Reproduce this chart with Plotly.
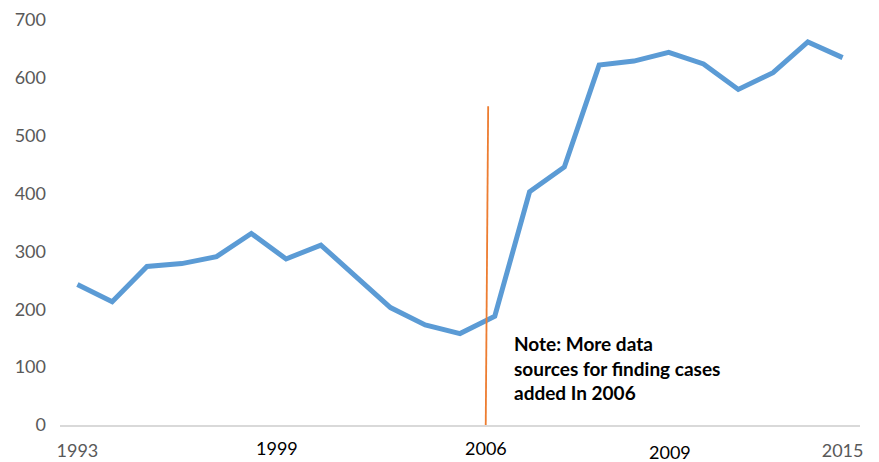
import plotly.graph_objects as go

years = list(range(1993, 2016))
cases = [243, 213, 274, 279, 291, 331, 287, 311, 257, 203, 173, 158, 188,
         403, 446, 622, 629, 644, 624, 580, 609, 662, 635]

y_ticks = [0, 100, 200, 300, 400, 500, 600, 700]
edge_ticks = [1993, 2015]
extra_labels = ["1999", "2006", "2009"]
extra_label_x = [1998.75, 2004.75, 2010.04]
extra_label_y = [-0.057, -0.057, -0.067]   # paper coordinates, below the axis
marker_line_x = [2004.74, 2004.81]
marker_line_y = [0, 551]
note_text = "Note: More data<br>sources for finding cases<br>added In 2006"

FONT = "Lato"

fig = go.Figure()
fig.add_trace(go.Scatter(
    x=years, y=cases, mode="lines",
    line=dict(color="#5B9BD5", width=5),
    hoverinfo="skip", showlegend=False,
))
fig.add_trace(go.Scatter(
    x=marker_line_x, y=marker_line_y, mode="lines",
    line=dict(color="#ED7D31", width=1.8),
    hoverinfo="skip", showlegend=False,
))

for t, x, y in zip(extra_labels, extra_label_x, extra_label_y):
    fig.add_annotation(x=x, y=y, xref="x", yref="paper", text=t, showarrow=False,
                       font=dict(family=FONT, size=18, color="#000000"),
                       xanchor="center", yanchor="middle")

fig.add_annotation(x=2005.49, y=98, xref="x", yref="y", text=note_text,
                   showarrow=False, align="left", xanchor="left", yanchor="middle",
                   font=dict(family=FONT, size=19, color="#000000", weight="bold"))

fig.update_layout(
    width=871, height=454,
    margin=dict(l=52, r=19, t=12, b=37),
    paper_bgcolor="white", plot_bgcolor="white",
    font=dict(family=FONT, size=18, color="#595959"),
)
fig.update_xaxes(
    range=[1992.5, 2015.5], tickvals=edge_ticks, ticktext=[str(v) for v in edge_ticks],
    showgrid=False, zeroline=False, showline=True, linecolor="#D9D9D9", linewidth=1.5,
    ticks="", ticklabelstandoff=9, automargin=False,
    tickfont=dict(family=FONT, size=18, color="#595959"),
)
fig.update_yaxes(
    range=[0, 700], tickvals=y_ticks, showgrid=False, zeroline=False, showline=False,
    ticks="", ticklabelstandoff=13, automargin=False,
    tickfont=dict(family=FONT, size=18, color="#595959"),
)

fig.write_html("out.html")
